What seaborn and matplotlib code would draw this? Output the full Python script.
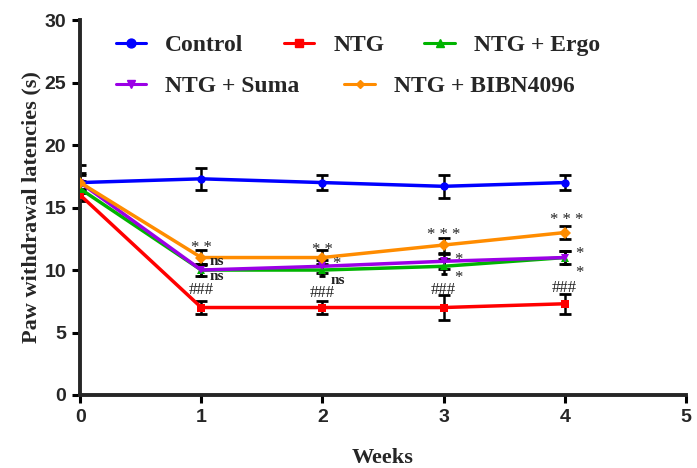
import matplotlib
matplotlib.use("Agg")
import matplotlib.pyplot as plt
import seaborn as sns
import pandas as pd
import numpy as np

weeks = [0, 1, 2, 3, 4]
groups = ["Control", "NTG", "NTG + Ergo", "NTG + Suma", "NTG + BIBN4096"]
control = [17.0, 17.3, 17.0, 16.7, 17.0]
ntg = [16.0, 7.0, 7.0, 7.0, 7.3]
ergo = [16.5, 10.0, 10.0, 10.3, 11.0]
suma = [17.0, 10.0, 10.3, 10.7, 11.0]
bibn = [17.0, 11.0, 11.0, 12.0, 13.0]

control_err = [0.6, 0.9, 0.6, 0.9, 0.6]
ntg_err = [0.5, 0.5, 0.5, 1.0, 0.8]
ergo_err = [0.6, 0.5, 0.5, 0.6, 0.5]
suma_err = [0.8, 0.5, 0.5, 0.6, 0.5]
bibn_err = [1.4, 0.6, 0.6, 0.6, 0.5]

colors = ["#0000FF", "#FF0000", "#00B400", "#9B00E6", "#FF8C00"]
markers = ["o", "s", "^", "v", "D"]
msizes = [8, 8, 8, 8, 5]

# significance labels: week, y, text, horizontal alignment
annot = [
    (1.0, 12.1, "* *", "center"), (1.07, 10.65, "ns", "left"), (1.07, 9.5, "ns", "left"),
    (1.0, 8.4, "###", "center"),
    (2.0, 11.9, "* *", "center"), (2.08, 10.8, "*", "left"), (2.07, 9.2, "ns", "left"),
    (2.0, 8.2, "###", "center"),
    (3.0, 13.1, "* * *", "center"), (3.09, 11.1, "*", "left"), (3.09, 9.7, "*", "left"),
    (3.0, 8.4, "###", "center"),
    (4.02, 14.3, "* * *", "center"), (4.09, 11.6, "*", "left"), (4.09, 10.1, "*", "left"),
    (4.0, 8.6, "###", "center"),
]

series = [control, ntg, ergo, suma, bibn]
errs = [control_err, ntg_err, ergo_err, suma_err, bibn_err]
df = pd.DataFrame({
    "week": np.tile(weeks, len(groups)),
    "value": np.concatenate(series),
    "group": np.repeat(groups, len(weeks)),
})

sns.set_style("ticks")
fig, ax = plt.subplots(figsize=(6.97, 4.68), dpi=100)
fig.subplots_adjust(left=0.115, right=0.984, bottom=0.156, top=0.957)

for i, g in enumerate(groups):
    ax.errorbar(weeks, series[i], yerr=errs[i], fmt="none", ecolor="black",
                elinewidth=1.8, capsize=4, capthick=2, zorder=2)

sns.lineplot(data=df, x="week", y="value", hue="group", style="group",
             palette=dict(zip(groups, colors)), markers=dict(zip(groups, markers)),
             dashes=False, linewidth=2.5, markeredgewidth=0, ax=ax, zorder=3,
             legend=False)
for line, ms in zip(ax.lines, msizes):
    line.set_markersize(ms)

for x, y, t, ha in annot:
    bold = "bold" if t == "ns" else "normal"
    dy = -0.3 if "*" in t else 0
    ax.text(x, y + dy, t, ha=ha, va="center", fontsize=11 if t == "ns" else 12,
            fontweight=bold, family="Liberation Serif", color="#222222")

ax.set_xlim(0, 5)
ax.set_ylim(0, 30)
ax.set_xticks(range(6))
ax.set_yticks(range(0, 31, 5))
for lab in ax.get_xticklabels() + ax.get_yticklabels():
    lab.set_fontweight("bold")
    lab.set_fontsize(14)
    lab.set_family("Liberation Sans")
ax.tick_params(width=2.2, length=6, color="black", pad=4)
for s in ["left", "bottom"]:
    ax.spines[s].set_linewidth(2.8)
sns.despine(ax=ax)

ax.set_xlabel("Weeks", fontsize=16, fontweight="bold", family="Liberation Serif", labelpad=16)
ax.set_ylabel("Paw withdrawal latencies (s)", fontsize=16, fontweight="bold",
              family="Liberation Serif", labelpad=2)

handles = [plt.Line2D([], [], color=c, marker=m, markersize=ms * 0.8, linewidth=2.2)
           for c, m, ms in zip(colors, markers, msizes)]
prop = {"family": "Liberation Serif", "weight": "bold", "size": 17}
leg1 = ax.legend(handles[:3], groups[:3], ncol=3, loc="upper left",
                 bbox_to_anchor=(0.035, 1.0), frameon=False, prop=prop,
                 handlelength=1.3, handletextpad=0.8, columnspacing=1.7,
                 borderaxespad=0.2)
ax.add_artist(leg1)
ax.legend(handles[3:], groups[3:], ncol=2, loc="upper left",
          bbox_to_anchor=(0.035, 0.89), frameon=False, prop=prop,
          handlelength=1.3, handletextpad=0.8, columnspacing=1.9,
          borderaxespad=0.2)

fig.savefig("out.png", dpi=100)
